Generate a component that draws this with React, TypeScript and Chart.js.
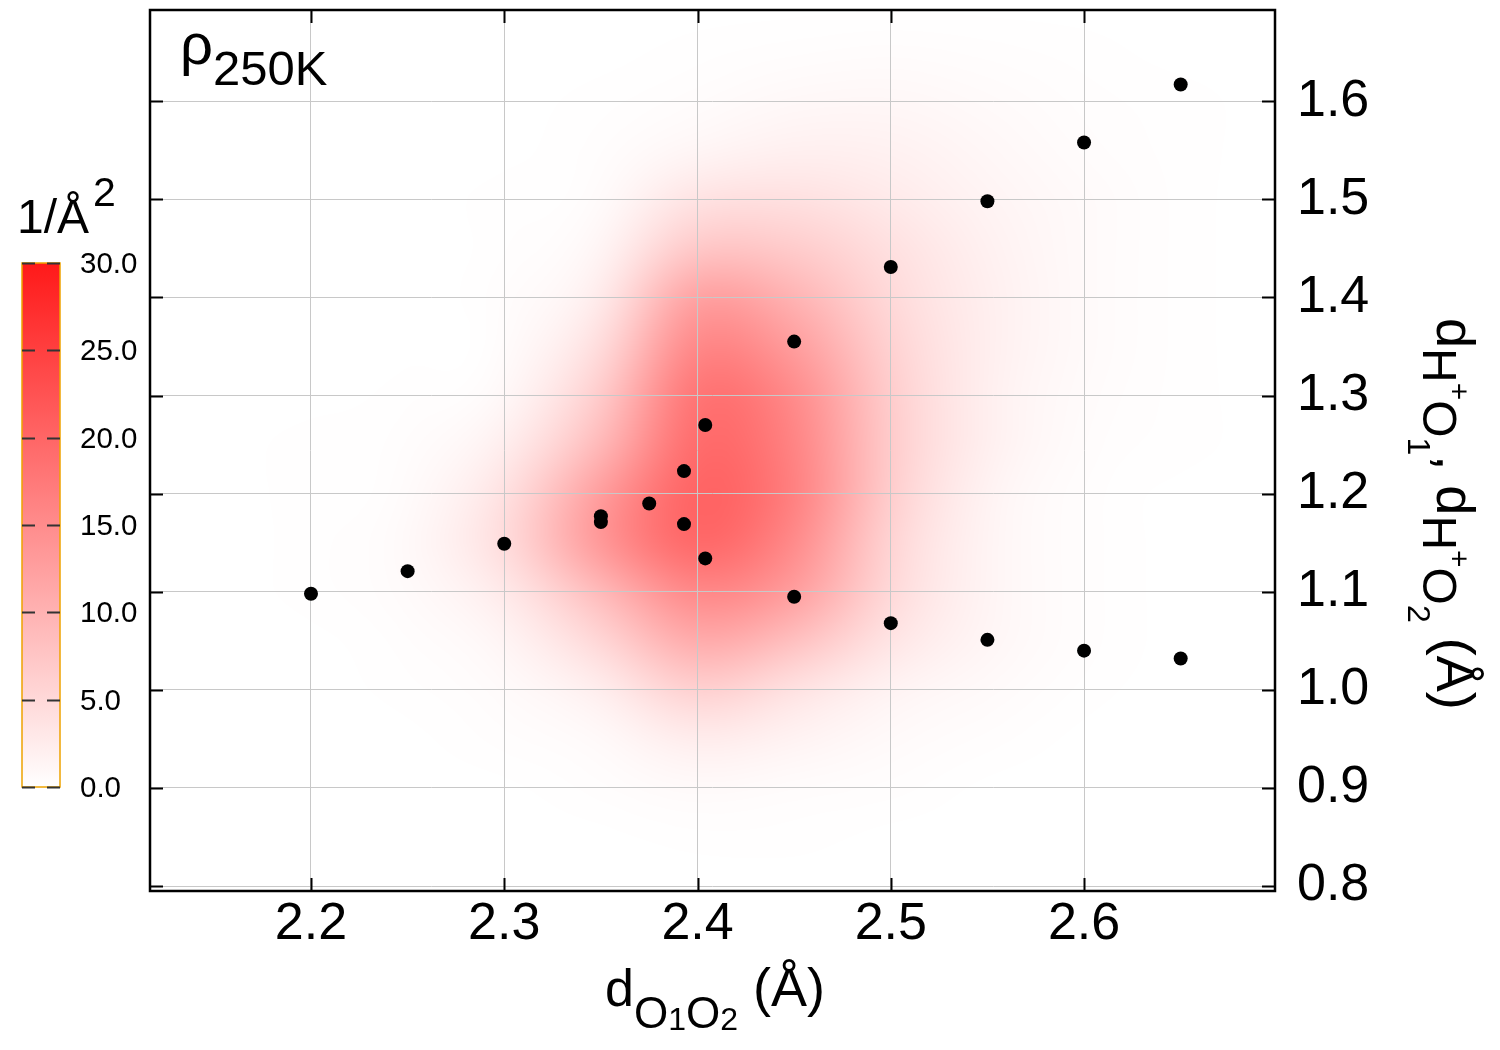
import React, { useEffect, useRef } from "react";
import { Chart, registerables } from "chart.js";

Chart.register(...registerables);

// ---------- axis settings ----------
const X_TICKS = [2.2, 2.3, 2.4, 2.5, 2.6];
const Y_TICKS = [0.8, 0.9, 1.0, 1.1, 1.2, 1.3, 1.4, 1.5, 1.6];
const X_MIN = 2.1167;
const X_MAX = 2.6988;
const Y_MIN = 0.795;
const Y_MAX = 1.693;

// ---------- scatter series ----------
const UPPER_X = [2.2, 2.25, 2.3, 2.35, 2.375, 2.393, 2.404, 2.45, 2.5, 2.55, 2.6, 2.65];
const UPPER_Y = [1.098, 1.121, 1.149, 1.177, 1.19, 1.223, 1.27, 1.355, 1.431, 1.498, 1.558, 1.617];
const LOWER_X = [2.35, 2.393, 2.404, 2.45, 2.5, 2.55, 2.6, 2.65];
const LOWER_Y = [1.171, 1.169, 1.134, 1.095, 1.068, 1.051, 1.04, 1.032];

// ---------- density map (1/Å²) ----------
const HEAT_X = [2.15, 2.2, 2.25, 2.3, 2.35, 2.4, 2.45, 2.5, 2.55, 2.6, 2.65, 2.7];
const HEAT_Y = [1.7, 1.65, 1.6, 1.55, 1.5, 1.45, 1.4, 1.35, 1.3, 1.25, 1.2, 1.15, 1.1, 1.05, 1.0, 0.95, 0.9, 0.85, 0.8];
const HEAT_Z = [
  [0, 0, 0, 0, 0, 0, 0, 0, 0, 0, 0, 0],
  [0, 0, 0, 0, 0, 0.1, 0.3, 0.4, 0.3, 0.1, 0, 0],
  [0, 0, 0, 0, 0.1, 0.4, 0.9, 1.0, 0.7, 0.3, 0.1, 0],
  [0, 0, 0, 0, 0.2, 1.2, 2.0, 1.8, 1.0, 0.4, 0.1, 0],
  [0, 0, 0, 0.1, 0.4, 3.8, 4.0, 2.7, 1.4, 0.6, 0.1, 0],
  [0, 0, 0, 0.1, 1.0, 7.5, 6.8, 4.0, 1.8, 0.6, 0.1, 0],
  [0, 0, 0, 0.2, 2.2, 13, 10, 4.8, 2.1, 0.7, 0.1, 0],
  [0, 0, 0, 0.3, 4.2, 16.5, 13, 5.8, 2.1, 0.6, 0.1, 0],
  [0, 0, 0.1, 0.6, 6.5, 19, 15.5, 6.4, 1.9, 0.5, 0.1, 0],
  [0, 0.1, 0.3, 2.0, 9.0, 20, 16.5, 6.5, 1.9, 0.4, 0.1, 0],
  [0, 0.1, 0.4, 3.6, 13, 21, 17, 6.2, 1.4, 0.3, 0, 0],
  [0, 0.1, 0.7, 4.5, 14, 20.5, 15.5, 5.4, 1.3, 0.3, 0, 0],
  [0, 0.1, 0.5, 2.6, 9.0, 16, 13, 4.8, 1.3, 0.3, 0, 0],
  [0, 0, 0.2, 1.2, 5.2, 11.5, 8.4, 3.4, 1.2, 0.3, 0, 0],
  [0, 0, 0.1, 0.5, 2.1, 6.4, 3.6, 1.4, 0.6, 0.1, 0, 0],
  [0, 0, 0, 0.2, 0.6, 2.5, 1.6, 0.7, 0.2, 0, 0, 0],
  [0, 0, 0, 0, 0.2, 0.7, 0.4, 0.2, 0, 0, 0, 0],
  [0, 0, 0, 0, 0, 0.1, 0.1, 0, 0, 0, 0, 0],
  [0, 0, 0, 0, 0, 0, 0, 0, 0, 0, 0, 0],
];

// ---------- colour bar ----------
const CBAR_TICKS = [0, 5, 10, 15, 20, 25, 30];
const CBAR_MIN = 0;
const CBAR_MAX = 30;

const FONT = '"Liberation Sans", Arial, Helvetica, sans-serif';
const TOP_G = 25;

function cmap(v: number): [number, number, number] {
  const t = Math.max(0, Math.min(1, (v - CBAR_MIN) / (CBAR_MAX - CBAR_MIN)));
  const g = Math.round(255 - t * (255 - TOP_G));
  return [255, g, g];
}

type Seg = { t: string; size: number; dy: number };

function drawRich(ctx: CanvasRenderingContext2D, segs: Seg[], x: number, y: number) {
  let cx = x;
  ctx.textAlign = "left";
  ctx.textBaseline = "alphabetic";
  for (const s of segs) {
    ctx.font = `${s.size}px ${FONT}`;
    ctx.fillText(s.t, cx, y + s.dy);
    cx += ctx.measureText(s.t).width;
  }
}

const heatPlugin = {
  id: "heatmap",
  beforeDraw(chart: any) {
    const { ctx, chartArea, scales } = chart;
    const xs = scales.x;
    const ys = scales.y;
    const nx = HEAT_X.length;
    const ny = HEAT_Y.length;
    const off = document.createElement("canvas");
    off.width = nx;
    off.height = ny;
    const octx = off.getContext("2d")!;
    const img = octx.createImageData(nx, ny);
    for (let j = 0; j < ny; j++) {
      for (let i = 0; i < nx; i++) {
        const [r, g, b] = cmap(HEAT_Z[j][i]);
        const k = (j * nx + i) * 4;
        img.data[k] = r;
        img.data[k + 1] = g;
        img.data[k + 2] = b;
        img.data[k + 3] = 255;
      }
    }
    octx.putImageData(img, 0, 0);
    const dx = HEAT_X[1] - HEAT_X[0];
    const dy = HEAT_Y[0] - HEAT_Y[1];
    const left = xs.getPixelForValue(HEAT_X[0] - dx / 2);
    const right = xs.getPixelForValue(HEAT_X[nx - 1] + dx / 2);
    const top = ys.getPixelForValue(HEAT_Y[0] + dy / 2);
    const bottom = ys.getPixelForValue(HEAT_Y[ny - 1] - dy / 2);
    ctx.save();
    ctx.beginPath();
    ctx.rect(chartArea.left, chartArea.top, chartArea.right - chartArea.left, chartArea.bottom - chartArea.top);
    ctx.clip();
    ctx.imageSmoothingEnabled = true;
    (ctx as any).imageSmoothingQuality = "high";
    ctx.filter = "blur(12px)";
    ctx.drawImage(off, left, top, right - left, bottom - top);
    ctx.filter = "none";
    ctx.restore();
  },
};

const decorPlugin = {
  id: "decor",
  afterDraw(chart: any) {
    const { ctx, chartArea, scales } = chart;
    const { left, right, top, bottom } = chartArea;
    const xs = scales.x;
    const ys = scales.y;
    ctx.save();

    // inward tick marks on all four sides
    ctx.strokeStyle = "#000";
    ctx.lineWidth = 2;
    const tl = 13;
    for (const v of X_TICKS) {
      const px = Math.round(xs.getPixelForValue(v)) + 0.5;
      ctx.beginPath();
      ctx.moveTo(px, bottom);
      ctx.lineTo(px, bottom - tl);
      ctx.moveTo(px, top);
      ctx.lineTo(px, top + tl);
      ctx.stroke();
    }
    for (const v of Y_TICKS) {
      const py = Math.round(ys.getPixelForValue(v)) + 0.5;
      ctx.beginPath();
      ctx.moveTo(left, py);
      ctx.lineTo(left + tl, py);
      ctx.moveTo(right, py);
      ctx.lineTo(right - tl, py);
      ctx.stroke();
    }

    // frame
    ctx.lineWidth = 2.5;
    ctx.strokeRect(left, top, right - left, bottom - top);

    // colour bar
    const cbL = 22;
    const cbR = 60;
    const cbTop = 263;
    const cbBot = 787;
    const vy = (v: number) => cbBot - ((v - CBAR_MIN) / (CBAR_MAX - CBAR_MIN)) * (cbBot - cbTop);
    const grad = ctx.createLinearGradient(0, cbBot, 0, cbTop);
    const steps = 10;
    for (let s = 0; s <= steps; s++) {
      const v = CBAR_MIN + (s / steps) * (CBAR_MAX - CBAR_MIN);
      const [r, g, b] = cmap(v);
      grad.addColorStop(s / steps, `rgb(${r},${g},${b})`);
    }
    ctx.fillStyle = grad;
    ctx.fillRect(cbL, cbTop, cbR - cbL, cbBot - cbTop);
    ctx.strokeStyle = "#eea300";
    ctx.lineWidth = 1.5;
    ctx.strokeRect(cbL, cbTop, cbR - cbL, cbBot - cbTop);
    ctx.strokeStyle = "#333";
    ctx.lineWidth = 2;
    ctx.fillStyle = "#000";
    ctx.font = `29.5px ${FONT}`;
    ctx.textAlign = "left";
    ctx.textBaseline = "middle";
    for (const v of CBAR_TICKS) {
      const py = Math.round(vy(v)) + 0.5;
      ctx.beginPath();
      ctx.moveTo(cbL, py);
      ctx.lineTo(cbL + 13, py);
      ctx.moveTo(cbR - 13, py);
      ctx.lineTo(cbR, py);
      ctx.stroke();
      ctx.fillText(v.toFixed(1), 80, py + 1);
    }

    // colour bar title
    ctx.fillStyle = "#000";
    drawRich(ctx, [{ t: "1/Å", size: 48, dy: 0 }], 17, 233);
    drawRich(ctx, [{ t: "2", size: 41, dy: 0 }], 93, 206);

    // panel label
    drawRich(ctx, [{ t: "ρ", size: 58, dy: 0 }], 180, 64);
    drawRich(ctx, [{ t: "250K", size: 49, dy: 0 }], 213, 85);

    // x axis title
    drawRich(
      ctx,
      [
        { t: "d", size: 52, dy: 0 },
        { t: "O", size: 44, dy: 22 },
        { t: "1", size: 32, dy: 24 },
        { t: "O", size: 44, dy: 22 },
        { t: "2", size: 32, dy: 24 },
        { t: " (Å)", size: 54, dy: 0 },
      ],
      605,
      1006
    );

    // right axis title (rotated clockwise)
    ctx.translate(1437, 318);
    ctx.rotate(Math.PI / 2);
    drawRich(
      ctx,
      [
        { t: "d", size: 54, dy: 0 },
        { t: "H", size: 48, dy: 14 },
        { t: "+", size: 30, dy: -12 },
        { t: "O", size: 48, dy: 14 },
        { t: "1", size: 32, dy: 29 },
        { t: ", ", size: 54, dy: 0 },
        { t: "d", size: 54, dy: 0 },
        { t: "H", size: 48, dy: 14 },
        { t: "+", size: 30, dy: -12 },
        { t: "O", size: 48, dy: 14 },
        { t: "2", size: 32, dy: 29 },
        { t: " (Å)", size: 54, dy: 0 },
      ],
      0,
      0
    );
    ctx.restore();
  },
};

export default function App() {
  const ref = useRef<HTMLCanvasElement | null>(null);
  useEffect(() => {
    document.body.style.margin = "0";
    const canvas = ref.current!;
    const mk = (xsArr: number[], ysArr: number[]) => xsArr.map((x, i) => ({ x, y: ysArr[i] }));
    const chart = new Chart(canvas, {
      type: "scatter",
      data: {
        datasets: [
          {
            label: "dH+O1",
            data: mk(UPPER_X, UPPER_Y),
            backgroundColor: "#000",
            borderWidth: 0,
            pointRadius: 7,
          },
          {
            label: "dH+O2",
            data: mk(LOWER_X, LOWER_Y),
            backgroundColor: "#000",
            borderWidth: 0,
            pointRadius: 7,
          },
        ],
      },
      options: {
        responsive: false,
        animation: false,
        layout: { padding: { left: 150, top: 10, right: 0, bottom: 0 } },
        plugins: { legend: { display: false }, tooltip: { enabled: false } },
        scales: {
          x: {
            type: "linear",
            position: "bottom",
            min: X_MIN,
            max: X_MAX,
            afterBuildTicks: (s: any) => {
              s.ticks = X_TICKS.map((v) => ({ value: v }));
            },
            afterFit: (s: any) => {
              s.height = 159;
              s.paddingLeft = 0;
              s.paddingRight = 0;
            },
            grid: { color: "#c8c8c8", lineWidth: 1, drawTicks: false },
            border: { display: false },
            ticks: {
              padding: 2,
              color: "#000",
              font: { family: FONT, size: 52 },
              callback: (v: any) => Number(v).toFixed(1),
            },
          },
          y: {
            type: "linear",
            position: "right",
            min: Y_MIN,
            max: Y_MAX,
            afterBuildTicks: (s: any) => {
              s.ticks = Y_TICKS.map((v) => ({ value: v }));
            },
            afterFit: (s: any) => {
              s.width = 225;
              s.paddingTop = 0;
              s.paddingBottom = 0;
            },
            grid: { color: "#c8c8c8", lineWidth: 1, drawTicks: false },
            border: { display: false },
            ticks: {
              padding: 22,
              color: "#000",
              font: { family: FONT, size: 52 },
              callback: (v: any) => Number(v).toFixed(1),
            },
          },
        },
      },
      plugins: [heatPlugin, decorPlugin],
    } as any);
    return () => chart.destroy();
  }, []);
  return <canvas ref={ref} width={1500} height={1050} style={{ display: "block" }} />;
}
